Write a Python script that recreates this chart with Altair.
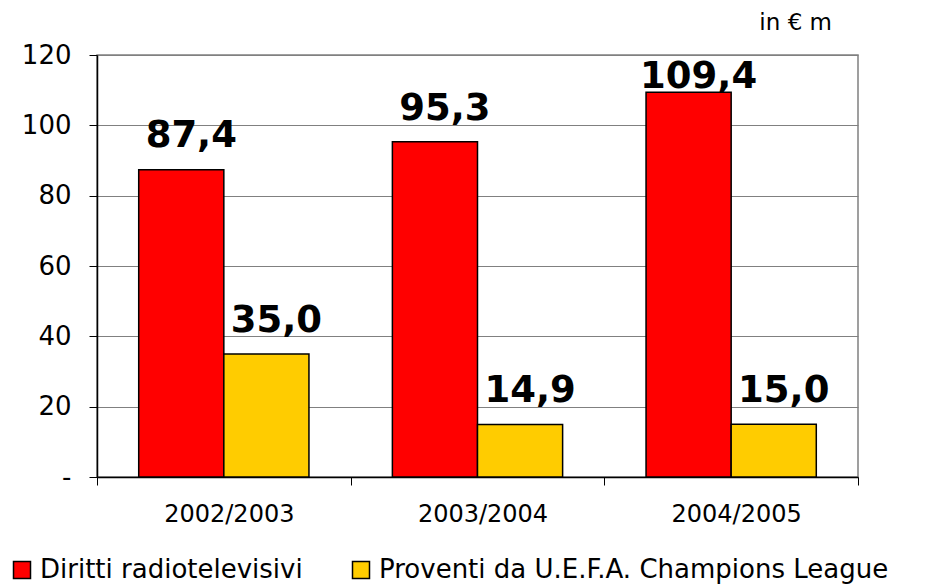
import altair as alt
import pandas as pd

seasons = ["2002/2003", "2003/2004", "2004/2005"]
series = ["Diritti radiotelevisivi", "Proventi da U.E.F.A. Champions League"]
diritti = [87.4, 95.3, 109.4]
uefa = [35.0, 14.9, 15.0]
colors = ["#FF0000", "#FFCC00"]
y_ticks = [0, 20, 40, 60, 80, 100, 120]

rows = []
for i, s in enumerate(seasons):
    for name, vals in zip(series, [diritti, uefa]):
        v = vals[i]
        rows.append({"season": s, "series": name, "value": v,
                     "label": f"{v:.1f}".replace(".", ",")})
df = pd.DataFrame(rows)

FONT = "DejaVu Sans"

x = alt.X("season:N", sort=seasons, title=None,
          scale=alt.Scale(paddingInner=0, paddingOuter=0),
          axis=alt.Axis(labelAngle=0, labelFontSize=24, labelPadding=17,
                        tickBand="extent", tickSize=8, tickColor="black",
                        domainColor="black", domainWidth=1.5, labelColor="black",
                        grid=False, labelFont=FONT, labelOffset=5))
xoff = alt.XOffset("series:N", sort=series,
                   scale=alt.Scale(paddingInner=0, paddingOuter=0.49))

bars = alt.Chart(df).mark_bar(stroke="black", strokeWidth=1.5).encode(
    x=x,
    xOffset=xoff,
    y=alt.Y("value:Q", title=None,
            scale=alt.Scale(domain=[0, 120], nice=False),
            axis=alt.Axis(values=y_ticks, labelFontSize=26, labelPadding=18,
                          tickSize=8, tickColor="black", domainColor="black",
                          domainWidth=1.5, gridColor="#808080", gridWidth=1,
                          labelColor="black", labelFont=FONT,
                          labelExpr="datum.value == 0 ? '-' : datum.label")),
    color=alt.Color("series:N", sort=series, title=None,
                    scale=alt.Scale(domain=series, range=colors),
                    legend=alt.Legend(orient="none", legendX=-88, legendY=502,
                                      direction="horizontal", columns=2,
                                      columnPadding=45, symbolType="square",
                                      symbolSize=289, symbolStrokeColor="black",
                                      symbolStrokeWidth=1.5, labelFontSize=26,
                                      labelFont=FONT, labelColor="black",
                                      labelOffset=5, labelLimit=600)),
)

labels = alt.Chart(df).transform_calculate(
    ly="min(datum.value + 6.3, 110.6)"
).mark_text(font=FONT, fontSize=37, fontWeight="bold", color="black",
            baseline="alphabetic", dx=10).encode(
    x=alt.X("season:N", sort=seasons),
    xOffset=alt.XOffset("series:N", sort=series),
    y=alt.Y("ly:Q"),
    text="label:N",
)

chart = alt.layer(bars, labels).properties(
    width=761, height=422,
    autosize=alt.AutoSizeParams(type="none"),
    padding={"left": 89, "top": 47, "right": 60, "bottom": 108},
    title=alt.TitleParams("in € m", anchor="end", frame="group", fontSize=23,
                          font=FONT, fontWeight="normal", color="black",
                          dx=-26, offset=7),
).configure_view(stroke="#808080", strokeWidth=1.5)

chart.save("out.html", embed_options={"renderer": "svg", "actions": False})
